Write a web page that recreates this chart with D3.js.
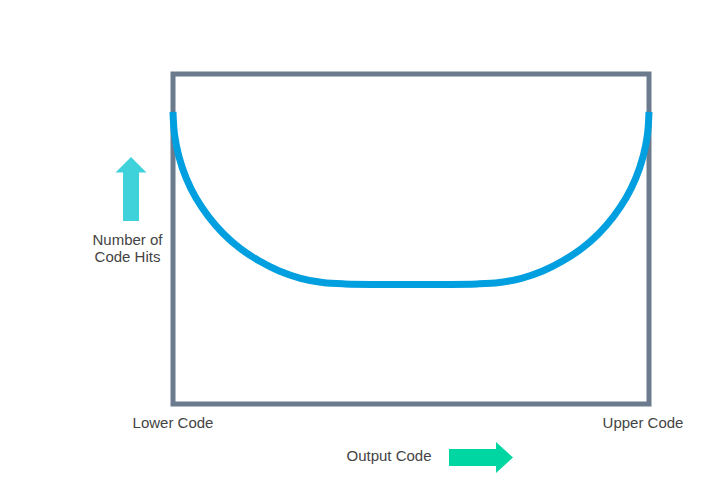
<!DOCTYPE html>
<html><head><meta charset="utf-8">
<script src="https://cdn.jsdelivr.net/npm/d3@7"></script>
<style>body{margin:0;background:#fff}svg{display:block}</style>
</head><body>
<script>
// Data (output code position 0..100, relative number of code hits 0..100)
const codePositions = [0, 0.32, 1.24, 2.75, 4.83, 7.46, 10.59, 14.14, 18.07, 22.32, 26.79, 31.43, 36.13,
                       63.87, 68.57, 73.21, 77.68, 81.93, 85.86, 89.41, 92.54, 95.17, 97.25, 98.76, 99.68, 100];
const codeHits      = [88.5, 81.7, 75.0, 68.5, 62.4, 56.8, 51.6, 47.1, 43.4, 40.3, 38.1, 36.8, 36.4,
                       36.4, 36.8, 38.1, 40.3, 43.4, 47.1, 51.6, 56.8, 62.4, 68.5, 75.0, 81.7, 88.5];
const endLabels = ["Lower Code", "Upper Code"];
const yLabel = ["Number of", "Code Hits"];
const xLabel = "Output Code";

const W = 720, H = 480;
const svg = d3.select("body").append("svg").attr("width", W).attr("height", H);

const x = d3.scaleLinear().domain([0, 100]).range([173, 649]);
const y = d3.scaleLinear().domain([0, 100]).range([404, 74]);

// Frame
svg.append("rect")
  .attr("x", x(0)).attr("y", y(100))
  .attr("width", x(100) - x(0)).attr("height", y(0) - y(100))
  .attr("fill", "none").attr("stroke", "#6b7a8d").attr("stroke-width", 5);

// Curve
const pts = codePositions.map((c, i) => [c, codeHits[i]]);
svg.append("path")
  .datum(pts)
  .attr("d", d3.line().x(d => x(d[0])).y(d => y(d[1])).curve(d3.curveCatmullRom.alpha(0.5)))
  .attr("fill", "none").attr("stroke", "#009fdf").attr("stroke-width", 7)
  .attr("stroke-linecap", "butt");

const font = "'Liberation Sans', Arial, sans-serif";
// End labels
svg.selectAll("text.end").data(endLabels).join("text")
  .attr("class", "end")
  .attr("x", (d, i) => i === 0 ? x(0) : x(100) - 6)
  .attr("y", 428)
  .attr("text-anchor", "middle")
  .attr("font-family", font).attr("font-size", 15).attr("fill", "#444")
  .text(d => d);

// Y label
svg.selectAll("text.yl").data(yLabel).join("text")
  .attr("class", "yl")
  .attr("x", 127.5).attr("y", (d, i) => 245 + i * 17)
  .attr("text-anchor", "middle")
  .attr("font-family", font).attr("font-size", 15).attr("fill", "#444")
  .text(d => d);

// X label
svg.append("text")
  .attr("x", 389).attr("y", 461)
  .attr("text-anchor", "middle")
  .attr("font-family", font).attr("font-size", 15).attr("fill", "#444")
  .text(xLabel);

// Up arrow
svg.append("path")
  .attr("d", "M131,157 L146.5,172.5 L139,172.5 L139,221 L123,221 L123,172.5 L115.5,172.5 Z")
  .attr("fill", "#3fd2da");

// Right arrow
svg.append("path")
  .attr("d", "M449,449 L496,449 L496,442 L513,457.5 L496,473 L496,466 L449,466 Z")
  .attr("fill", "#00d6a1");
</script>
</body></html>
